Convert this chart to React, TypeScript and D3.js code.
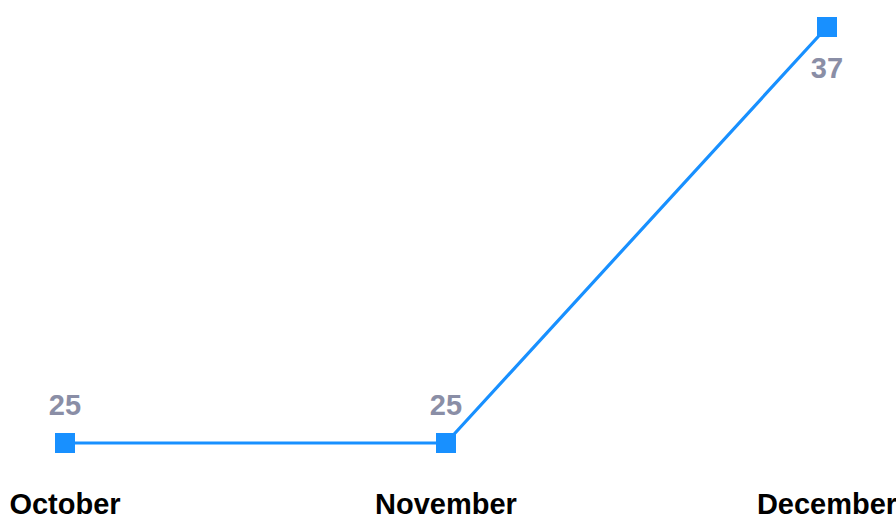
import React from "react";
import * as d3 from "d3";

const categories = ["October", "November", "December"];
const values = [25, 25, 37];

const W = 896;
const H = 523;

export default function App() {
  const x = d3.scalePoint<string>().domain(categories).range([65, 827]);
  const y = d3.scaleLinear().domain([25, 37]).range([443, 27]);
  const pts = categories.map((c, i) => ({ c, v: values[i], x: x(c) as number, y: y(values[i]) }));
  const line = d3.line<{ x: number; y: number }>().x((d) => d.x).y((d) => d.y);
  const maxV = d3.max(values) as number;
  return (
    <svg
      width={W}
      height={H}
      style={{ position: "absolute", left: 0, top: 0, display: "block" }}
      fontFamily="'Liberation Sans', Arial, sans-serif"
    >
      <rect width={W} height={H} fill="#fff" />
      <path d={line(pts) || ""} fill="none" stroke="#1890ff" strokeWidth={3.2} />
      {pts.map((p) => (
        <rect key={p.c} x={p.x - 10} y={p.y - 10} width={20} height={20} fill="#1890ff" />
      ))}
      {pts.map((p) => (
        <text
          key={"v" + p.c}
          x={p.x}
          y={p.v === maxV ? p.y + 51 : p.y - 28}
          textAnchor="middle"
          fontSize={29}
          fontWeight="bold"
          fill="#8a8ea6"
        >
          {p.v}
        </text>
      ))}
      {pts.map((p) => (
        <text
          key={"c" + p.c}
          x={p.x}
          y={514}
          textAnchor="middle"
          fontSize={29}
          fontWeight="bold"
          fill="#000"
        >
          {p.c}
        </text>
      ))}
    </svg>
  );
}
